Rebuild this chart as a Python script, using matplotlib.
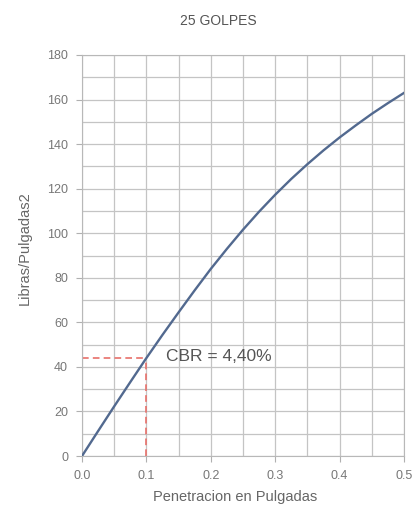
import matplotlib
matplotlib.use("Agg")
import matplotlib.pyplot as plt
from matplotlib.ticker import MultipleLocator

# penetracion (pulgadas) vs carga (libras/pulgadas2), 25 golpes
penetracion = [0.0, 0.025, 0.05, 0.075, 0.1, 0.125, 0.15, 0.175, 0.2, 0.225, 0.25,
               0.275, 0.3, 0.325, 0.35, 0.375, 0.4, 0.425, 0.45, 0.475, 0.5]
carga = [0.0, 11.2, 22.3, 33.2, 44.0, 54.4, 64.5, 74.4, 84.0, 93.0, 101.6,
         109.7, 117.3, 124.4, 131.0, 137.2, 143.0, 148.4, 153.6, 158.4, 163.0]

cbr_pen = 0.1
cbr_carga = 44.0
cbr_texto = "CBR = 4,40%"

x_ticks = [0.0, 0.1, 0.2, 0.3, 0.4, 0.5]
x_tick_labels = ["0.0", "0.1", "0.2", "0.3", "0.4", "0.5"]

plt.rcParams['font.family'] = ['Liberation Sans', 'DejaVu Sans']

fig = plt.figure(figsize=(4.14, 5.09), dpi=100)
ax = fig.add_axes([0.198, 0.104, 0.778, 0.788])

ax.plot(penetracion, carga, color='#52698f', lw=1.7, zorder=3)
ax.plot([0, cbr_pen], [cbr_carga, cbr_carga], color='#e8706a', lw=1.2, ls=(0, (4, 2.5)), zorder=2)
ax.plot([cbr_pen, cbr_pen], [0, cbr_carga], color='#e8706a', lw=1.2, ls=(0, (4, 2.5)), zorder=2)
ax.text(0.13, cbr_carga + 0.5, cbr_texto, fontsize=12.5, color='#555555', va='center', ha='left')

ax.set_xlim(0, 0.5)
ax.set_ylim(0, 180)
ax.set_xticks(x_ticks)
ax.set_xticklabels(x_tick_labels)
ax.yaxis.set_major_locator(MultipleLocator(20))
ax.xaxis.set_minor_locator(MultipleLocator(0.05))
ax.yaxis.set_minor_locator(MultipleLocator(10))
ax.grid(which='both', color='#c4c4c4', lw=0.9)
ax.set_axisbelow(True)
ax.tick_params(which='major', length=4, color='#b0b0b0', labelsize=9, labelcolor='#777777', pad=6)
ax.tick_params(which='minor', length=0)
for s in ax.spines.values():
    s.set_color('#b8b8b8')

ax.set_xlabel("Penetracion en Pulgadas", fontsize=10.5, color='#666666', va='center')
ax.xaxis.set_label_coords(0.475, -0.102)
ax.set_ylabel("Libras/Pulgadas2", fontsize=10.5, color='#666666', va='center')
ax.yaxis.set_label_coords(-0.177, 0.519)
fig.text(0.527, 0.959, "25 GOLPES", fontsize=10, color='#555555', ha='center', va='center')

fig.savefig("out.png", dpi=100)
